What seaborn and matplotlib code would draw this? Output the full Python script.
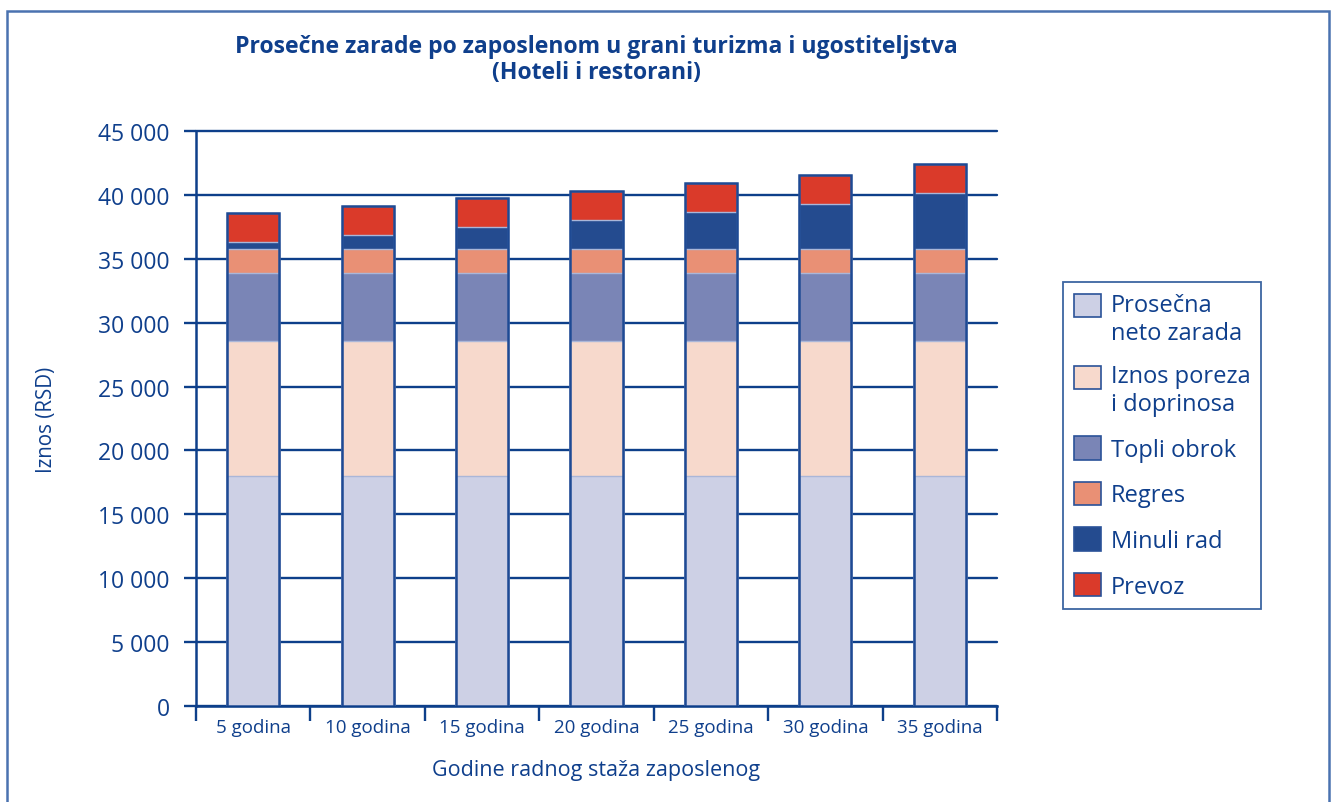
import numpy as np
import pandas as pd
import matplotlib
matplotlib.use("Agg")
import matplotlib.pyplot as plt
from matplotlib.patches import Patch, Rectangle
from matplotlib.ticker import FuncFormatter
from matplotlib.legend_handler import HandlerPatch
import seaborn as sns

categories = ["5 godina", "10 godina", "15 godina", "20 godina", "25 godina", "30 godina", "35 godina"]
neto_zarada = [18000, 18000, 18000, 18000, 18000, 18000, 18000]
porez_doprinosi = [10600, 10600, 10600, 10600, 10600, 10600, 10600]
topli_obrok = [5300, 5300, 5300, 5300, 5300, 5300, 5300]
regres = [1850, 1850, 1850, 1850, 1850, 1850, 1850]
minuli_rad = [580, 1110, 1760, 2280, 2910, 3530, 4420]
prevoz = [2270, 2290, 2240, 2290, 2290, 2240, 2260]

series_names = ["Prosečna\nneto zarada", "Iznos poreza\ni doprinosa", "Topli obrok", "Regres", "Minuli rad", "Prevoz"]
series_values = [neto_zarada, porez_doprinosi, topli_obrok, regres, minuli_rad, prevoz]
colors = ["#cdd0e5", "#f7d9cc", "#7a85b6", "#e99075", "#244b8f", "#da3a2a"]

TXT = "#0f3f8c"
AX = "#0d3f8a"

sns.set_theme(style="white")
plt.rcParams["font.family"] = ["Open Sans", "DejaVu Sans"]

fig = plt.figure(figsize=(13.35, 8.03), dpi=100)
ax = fig.add_axes([196 / 1335, 1 - 707 / 803, (997 - 196) / 1335, (707 - 132) / 803])

cum = np.zeros(len(categories))
cums = []
for vals in series_values:
    cum = cum + np.array(vals)
    cums.append(cum.copy())

# draw cumulative layers from top to bottom
for name, c, col in reversed(list(zip(series_names, cums, colors))):
    d = pd.DataFrame({"kat": categories, "val": c})
    sns.barplot(data=d, x="kat", y="val", color=col, width=0.455, ax=ax,
                edgecolor="#aab6d8", linewidth=1.0, saturation=1, zorder=3)

# outer outline of each full bar
tot = pd.DataFrame({"kat": categories, "val": cums[-1]})
sns.barplot(data=tot, x="kat", y="val", fill=False, width=0.455, ax=ax,
            edgecolor="#1e4a94", linewidth=1.8, zorder=4)

ax.set_ylim(0, 45000)
ax.set_xlim(-0.5, len(categories) - 0.5)
ax.set_yticks(np.arange(0, 45001, 5000))
ax.yaxis.set_major_formatter(FuncFormatter(lambda v, p: f"{int(v):,}".replace(",", " ")))
ax.grid(axis="y", color=AX, linewidth=1.7, zorder=0)
ax.grid(axis="x", visible=False)
ax.set_axisbelow(True)
for gl in ax.get_ygridlines():
    gl.set_clip_on(False)

for s in ["top", "right"]:
    ax.spines[s].set_visible(False)
for s in ["left", "bottom"]:
    ax.spines[s].set_color(AX)
    ax.spines[s].set_linewidth(1.8)

ax.tick_params(axis="y", direction="out", length=9, width=1.7, color=AX, labelcolor=TXT,
               labelsize=16.5, pad=10, left=True)
ax.set_xticks(np.arange(len(categories)))
ax.set_xticklabels(categories)
ax.tick_params(axis="x", length=0, labelcolor=TXT, labelsize=13.5, pad=9)
# x boundary ticks
ax.set_xticks(np.arange(len(categories) + 1) - 0.5, minor=True)
ax.tick_params(axis="x", which="minor", direction="out", length=11, width=1.7, color=AX, bottom=True)

ax.set_xlabel("Godine radnog staža zaposlenog", color=TXT, fontsize=15.5, labelpad=16)
ax.set_ylabel("Iznos (RSD)", color=TXT, fontsize=14.8)
ax.yaxis.set_label_coords(-0.173, 0.5)

fig.text(596 / 1335, 1 - 60 / 803, "Prosečne zarade po zaposlenom u grani turizma i ugostiteljstva\n(Hoteli i restorani)",
         ha="center", va="center", color=TXT, fontsize=16.6, fontweight="bold", linespacing=1.15)


class ShiftedPatchHandler(HandlerPatch):
    def __init__(self, shift=0.0, **kw):
        super().__init__(**kw)
        self.shift = shift

    def _create_patch(self, legend, orig_handle, xdescent, ydescent, width, height, fontsize):
        return Rectangle(xy=(-xdescent, -ydescent + self.shift), width=width, height=height)


handles = [Patch(facecolor=col, edgecolor="#2a5298", linewidth=1.2) for col in colors]
hmap = {}
for h, lab in zip(handles, series_names):
    hmap[h] = ShiftedPatchHandler(shift=10.0 if "\n" in lab else 0.0)

leg = fig.legend(handles, series_names, loc="upper left", handler_map=hmap,
                 bbox_to_anchor=(1063 / 1335, 1 - 283 / 803), frameon=True, fancybox=False,
                 fontsize=17, handlelength=1.15, handleheight=1.15, handletextpad=0.42,
                 labelspacing=0.84, borderpad=0.45, borderaxespad=0)
leg.get_frame().set_edgecolor(AX)
leg.get_frame().set_linewidth(1.3)
for t in leg.get_texts():
    t.set_color(TXT)
    t.set_linespacing(1.22)

# figure border
fig.patches.append(Rectangle((7 / 1335, -0.01), (1329 - 7) / 1335, 1 - 12 / 803 + 0.01,
                             transform=fig.transFigure, fill=False, edgecolor="#4a72b0",
                             linewidth=1.8, zorder=0))

fig.savefig("out.png", dpi=100)
